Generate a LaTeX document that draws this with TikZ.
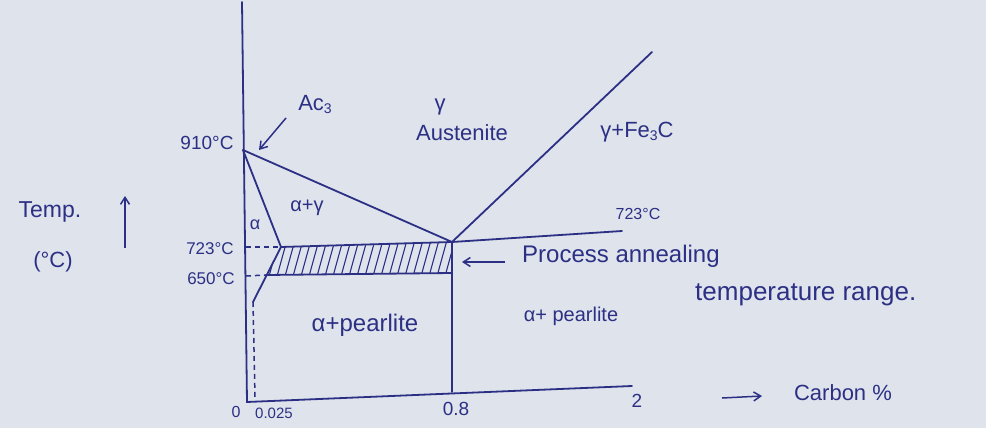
\documentclass[tikz,border=0pt]{standalone}
\usepackage{fontspec}
\setmainfont{Liberation Sans}
\usetikzlibrary{arrows.meta}
\definecolor{ink}{RGB}{44,48,132}
\definecolor{paper}{RGB}{223,227,236}
\newcommand{\fs}[1]{\fontsize{#1}{#1}\selectfont}
\newcommand{\lowthree}{{\fs{14}\raisebox{-3pt}{3}}}
\tikzset{
  curve/.style={draw=ink, line width=1.8pt, line cap=round},
  dashline/.style={draw=ink, line width=1.5pt, dash pattern=on 5pt off 4pt},
  hatchline/.style={draw=ink, line width=1.1pt},
  pointer/.style={draw=ink, line width=1.5pt, -{Straight Barb[length=7pt,width=9pt]}},
  lbl/.style={text=ink, inner sep=0pt}
}
\begin{document}
\begin{tikzpicture}[x=1pt,y=-1pt]
\fill[paper] (0,0) rectangle (986,428);
\useasboundingbox (0,0) rectangle (986,428);

% key points
\coordinate (ytop) at (242,2);
\coordinate (org) at (247,402);
\coordinate (xend) at (632,386);
\coordinate (A) at (243,150);
\coordinate (E) at (452,242);
\coordinate (P) at (281,247);
\coordinate (Q) at (253,302);
\coordinate (Qb) at (255,397);
\coordinate (F) at (452,273);
\coordinate (G) at (266,275);
\coordinate (Ya) at (246,247);
\coordinate (Yb) at (246,276);
\coordinate (Eb) at (452,392);
\coordinate (Cm) at (652,52);
\coordinate (R) at (622,231);

% hatching
\begin{scope}
  \clip (P) -- (E) -- (F) -- (G) -- cycle;
  \foreach \x in {236,244,...,470} \draw[hatchline] (\x,280) -- (\x+11,240);
\end{scope}

% axes and phase lines
\draw[curve] (ytop) -- (org) -- (xend);
\draw[curve] (A) -- (E);
\draw[curve] (A) -- (P) -- (Q);
\draw[dashline] (Q) -- (Qb);
\draw[dashline] (Ya) -- (P);
\draw[curve] (P) -- (E) -- (R);
\draw[dashline] (Yb) -- (G);
\draw[curve] (G) -- (F);
\draw[curve] (E) -- (Eb);
\draw[curve] (E) -- (Cm);

% arrows
\coordinate (acs1) at (286,118);
\coordinate (acs2) at (259,150);
\draw[pointer] (acs1) -- (acs2);
\coordinate (t1) at (125,248);
\coordinate (t2) at (125,196);
\draw[pointer] (t1) -- (t2);
\coordinate (p1) at (505,262);
\coordinate (p2) at (462,262);
\draw[pointer] (p1) -- (p2);
\coordinate (c1) at (722,398);
\coordinate (c2) at (762,396);
\draw[pointer] (c1) -- (c2);

% labels
\node[lbl, font=\fs{22}] (acs) at (315,105) {Ac\lowthree};
\node[lbl, font=\fs{22}] (gam) at (440,107) {γ};
\node[lbl, font=\fs{22}] (aus) at (462,133) {Austenite};
\node[lbl, font=\fs{22}] (gfe) at (637,132) {γ+Fe\lowthree C};
\node[lbl, font=\fs{20}] (ag) at (307,208) {α+γ};
\node[lbl, font=\fs{18}] (al) at (255,225) {α};
\node[lbl, font=\fs{19}] (t910) at (207,143) {910°C};
\node[lbl, font=\fs{17}] (t723) at (210,249) {723°C};
\node[lbl, font=\fs{17}] (t650) at (211,279) {650°C};
\node[lbl, font=\fs{23}] (temp) at (50,212) {Temp.};
\node[lbl, font=\fs{22}] (unit) at (53,262) {(°C)};
\node[lbl, font=\fs{16}] (t723r) at (638,214) {723°C};
\node[lbl, font=\fs{24}, anchor=west] (proc) at (522,256) {Process annealing};
\node[lbl, font=\fs{26}, anchor=west] (trange) at (695,295) {temperature range.};
\node[lbl, font=\fs{20}] (apr) at (571,316) {α+ pearlite};
\node[lbl, font=\fs{24}] (apl) at (365,325) {α+pearlite};
\node[lbl, font=\fs{16}] (x0) at (236,412) {0};
\node[lbl, font=\fs{15}] (x025) at (274,413) {0.025};
\node[lbl, font=\fs{19}] (x08) at (456,409) {0.8};
\node[lbl, font=\fs{19}] (x2) at (637,401) {2};
\node[lbl, font=\fs{22}] (carb) at (843,393) {Carbon \%};
\end{tikzpicture}
\end{document}
